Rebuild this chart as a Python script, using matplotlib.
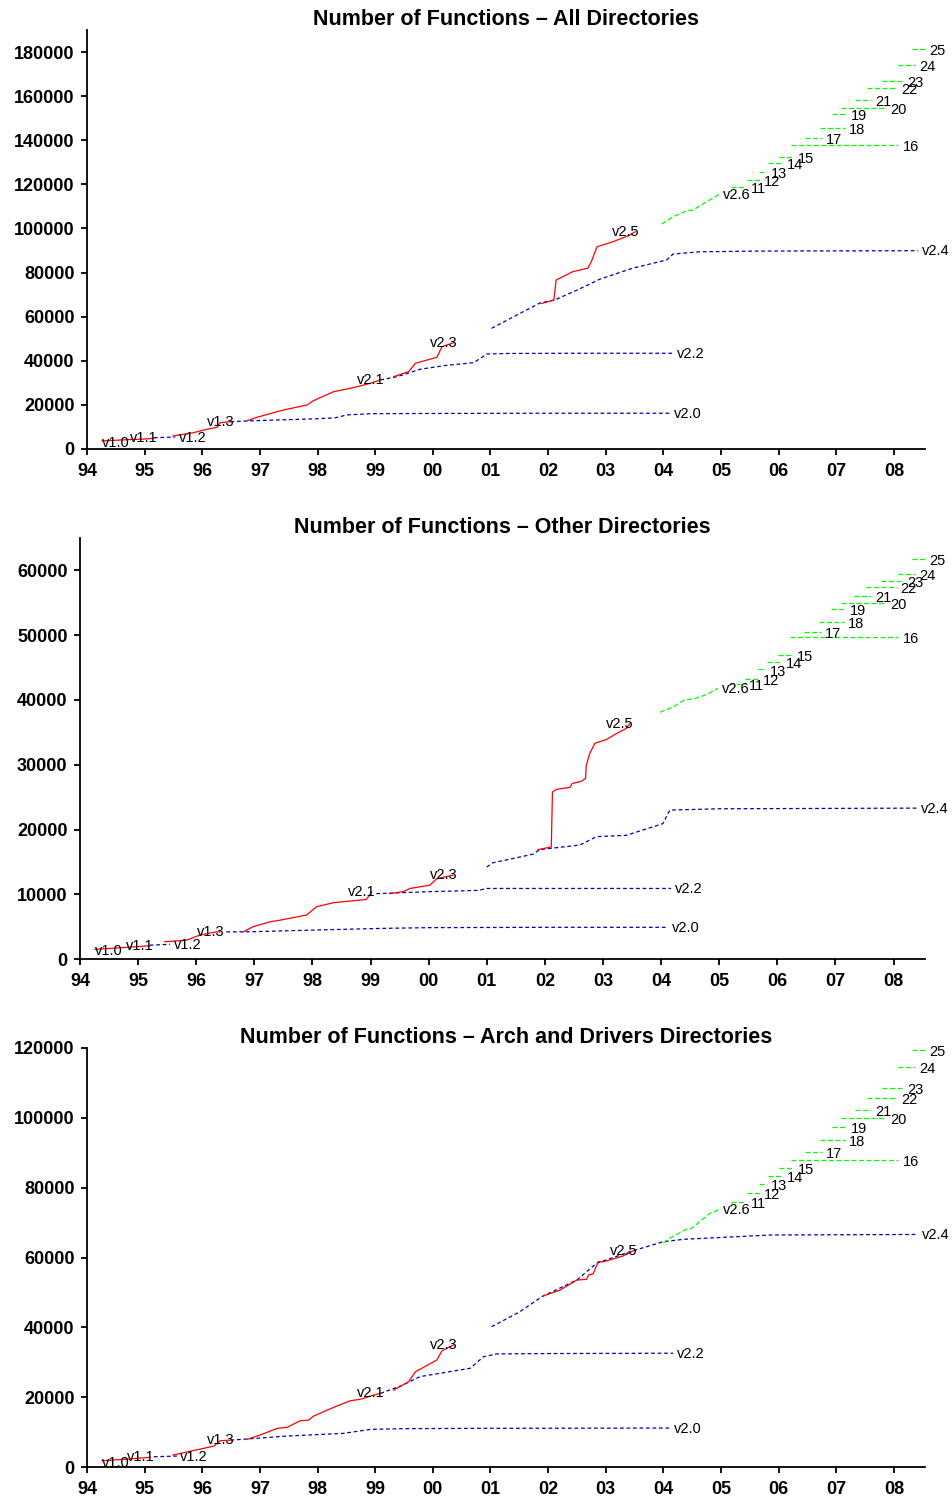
import matplotlib
matplotlib.use('Agg')
import matplotlib.pyplot as plt

plt.rcParams['font.family'] = ['Liberation Sans', 'DejaVu Sans']

# ---------------- shared ----------------
year_ticks = list(range(1994, 2009))
year_labels = ['94', '95', '96', '97', '98', '99', '00', '01', '02', '03', '04', '05', '06', '07', '08']

# 2.6.x stable branches: label, start and end (fractional year)
v26_stable_labels = ['11', '12', '13', '14', '15', '16', '17', '18', '19', '20', '21', '22', '23', '24', '25']
v26_stable_start = [2005.17, 2005.45, 2005.66, 2005.82, 2006.01, 2006.21, 2006.46, 2006.72, 2006.92,
                    2007.09, 2007.32, 2007.53, 2007.79, 2008.08, 2008.31]
v26_stable_end = [2005.44, 2005.68, 2005.80, 2006.08, 2006.27, 2008.08, 2006.75, 2007.15, 2007.18,
                  2007.87, 2007.61, 2008.05, 2008.16, 2008.37, 2008.54]

# ---------------- panel 1: all directories ----------------
all_v11_x = [1994.26, 1994.7, 1995.0, 1995.16]
all_v11_y = [3630, 4200, 4500, 4850]
all_v12_x = [1995.16, 1995.53]
all_v12_y = [5100, 5400]
all_v13_x = [1995.49, 1995.85, 1996.08, 1996.26, 1996.31, 1996.49]
all_v13_y = [5890, 7390, 8930, 9840, 11920, 12380]
all_v20_x = [1996.49, 1997.0, 1997.5, 1998.0, 1998.3, 1998.51, 1998.92, 2000.0, 2002.0, 2004.12]
all_v20_y = [12380, 12900, 13300, 13700, 14100, 15420, 16000, 16100, 16200, 16200]
all_v21_x = [1996.78, 1996.95, 1997.3, 1997.47, 1997.82, 1997.93, 1998.28, 1998.57, 1998.74, 1998.92, 1999.09]
all_v21_y = [12830, 14370, 16910, 18000, 19950, 21900, 25980, 27520, 28560, 29790, 31290]
all_v22_x = [1999.09, 1999.38, 1999.78, 2000.2, 2000.71, 2000.94, 2001.3, 2002.5, 2004.17]
all_v22_y = [31290, 32780, 36140, 37800, 39130, 43070, 43300, 43400, 43400]
all_v23_x = [1999.32, 1999.58, 1999.7, 2000.07, 2000.16, 2000.36]
all_v23_y = [32780, 35050, 38850, 41580, 46380, 48200]
all_v24_x = [2001.02, 2001.46, 2001.86, 2002.12, 2002.5, 2002.9, 2003.47, 2004.06, 2004.17, 2004.63,
             2005.5, 2006.5, 2008.42]
all_v24_y = [54700, 60750, 66200, 67600, 72000, 77000, 82000, 85700, 88400, 89400, 89700, 89800, 89900]
all_v25_x = [2001.89, 2002.1, 2002.14, 2002.43, 2002.69, 2002.75, 2002.85, 2003.13, 2003.42, 2003.51]
all_v25_y = [66000, 67500, 76600, 80400, 82000, 84900, 91700, 94000, 97000, 98500]
all_v26_x = [2003.97, 2004.17, 2004.4, 2004.52, 2004.75, 2004.98]
all_v26_y = [102000, 105300, 108000, 108400, 112100, 115600]
all_stable_y = [118700, 122000, 125700, 129500, 132500, 137800, 140900, 145700, 151800, 154700,
                158200, 163500, 167000, 174100, 181200]

# ---------------- panel 2: other directories ----------------
other_v11_x = [1994.26, 1994.7, 1995.2]
other_v11_y = [1500, 1750, 2050]
other_v12_x = [1995.2, 1995.55]
other_v12_y = [2150, 2270]
other_v13_x = [1995.46, 1995.84, 1996.06, 1996.35, 1996.41]
other_v13_y = [2670, 2930, 3700, 4200, 4200]
other_v20_x = [1996.52, 1996.87, 1998.0, 1999.16, 2000.0, 2002.0, 2004.12]
other_v20_y = [4200, 4200, 4470, 4730, 4850, 4900, 4900]
other_v21_x = [1996.81, 1996.98, 1997.27, 1997.44, 1997.9, 1998.07, 1998.36, 1998.93, 1999.02]
other_v21_y = [4200, 5000, 5750, 6000, 6800, 8070, 8700, 9200, 10400]
other_v22_x = [1999.1, 2000.0, 2000.85, 2001.0, 2002.0, 2004.17]
other_v22_y = [10100, 10400, 10600, 10900, 10900, 10900]
other_v23_x = [1999.33, 1999.56, 1999.68, 2000.02, 2000.14, 2000.42]
other_v23_y = [10100, 10400, 10900, 11400, 12400, 12950]
other_v24_x = [2001.0, 2001.1, 2001.8, 2001.91, 2002.6, 2002.89, 2003.4, 2004.03, 2004.15, 2005.0, 2008.41]
other_v24_y = [14200, 14850, 16200, 16900, 17600, 18900, 19100, 20900, 23000, 23200, 23300]
other_v25_x = [2001.88, 2002.11, 2002.13, 2002.2, 2002.43, 2002.47, 2002.63, 2002.7, 2002.71, 2002.77,
               2002.86, 2003.06, 2003.23, 2003.4, 2003.46]
other_v25_y = [16900, 17300, 25800, 26200, 26500, 27100, 27450, 27900, 29800, 31700,
               33300, 33900, 34800, 35600, 36350]
other_v26_x = [2003.98, 2004.2, 2004.4, 2004.58, 2004.8, 2004.98]
other_v26_y = [38100, 38900, 40000, 40200, 40900, 41800]
other_stable_y = [42400, 43300, 44700, 45900, 46900, 49700, 50500, 52000, 54100, 54950,
                  56000, 57500, 58300, 59400, 61700]

# ---------------- panel 3: arch and drivers ----------------
arch_v11_x = [1994.26, 1994.7, 1995.1]
arch_v11_y = [1800, 2300, 2780]
arch_v12_x = [1995.16, 1995.56]
arch_v12_y = [2950, 3150]
arch_v13_x = [1995.49, 1996.02, 1996.2, 1996.31, 1996.49]
arch_v13_y = [3440, 5350, 6000, 7530, 7730]
arch_v20_x = [1996.49, 1997.47, 1998.45, 1998.92, 1999.5, 2001.0, 2004.12]
arch_v20_y = [7700, 8880, 9650, 10800, 11000, 11100, 11170]
arch_v21_x = [1996.78, 1997.0, 1997.3, 1997.47, 1997.7, 1997.85, 1997.93, 1998.28, 1998.57, 1998.74,
              1998.97, 1999.09]
arch_v21_y = [7930, 9160, 11080, 11370, 13260, 13460, 14600, 17100, 19000, 19400, 20600, 21100]
arch_v22_x = [1999.09, 1999.44, 1999.78, 2000.65, 2000.88, 2001.1, 2002.0, 2004.17]
arch_v22_y = [21100, 23200, 25900, 28300, 31600, 32400, 32500, 32600]
arch_v23_x = [1999.32, 1999.58, 1999.7, 2000.07, 2000.16, 2000.36]
arch_v23_y = [22050, 24430, 27300, 30650, 33300, 34940]
arch_v24_x = [2001.02, 2001.51, 2001.89, 2002.5, 2002.84, 2003.42, 2004.0, 2004.35, 2005.85, 2008.42]
arch_v24_y = [40180, 44480, 48770, 53560, 58340, 61660, 64530, 65210, 66440, 66600]
arch_v25_x = [2001.91, 2002.21, 2002.5, 2002.67, 2002.7, 2002.78, 2002.87, 2002.96, 2003.07, 2003.3, 2003.48]
arch_v25_y = [48970, 50700, 53560, 53760, 54990, 55270, 58800, 58800, 59290, 60430, 61950]
arch_v26_x = [2004.0, 2004.11, 2004.4, 2004.49, 2004.81, 2004.98]
arch_v26_y = [64240, 65500, 68080, 68360, 72660, 73800]
arch_stable_y = [75980, 78560, 80960, 83340, 85720, 87920, 90300, 93650, 97460, 99870,
                 102240, 105770, 108460, 114650, 119420]

# ---------------- styling ----------------
RED = '#ff0000'
BLUE = '#0000b0'
GREEN = '#00ff00'
LBL_FS = 10.5
TICK_FS = 13


def dev(ax, x, y, label):
    ax.plot(x, y, color=RED, lw=0.9, zorder=3)
    ax.annotate(label, (x[-1], y[-1]), xytext=(3, 0), textcoords='offset points',
                ha='right', va='center', fontsize=LBL_FS, zorder=5)


def stable(ax, x, y, label, color=BLUE, dashes=(3.0, 2.2)):
    ax.plot(x, y, color=color, lw=0.9, dashes=dashes, zorder=2)
    ax.annotate(label, (x[-1], y[-1]), xytext=(2.5, -0.5), textcoords='offset points',
                ha='left', va='center', fontsize=LBL_FS, zorder=5)


def panel(ax, title, ymax, ystep, v11x, v11y, v12x, v12y, v13x, v13y, v20x, v20y, v21x, v21y,
          v22x, v22y, v23x, v23y, v24x, v24y, v25x, v25y, v26x, v26y, st_y):
    ax.annotate('v1.0', (v11x[0], v11y[0]), xytext=(0, -1.5), textcoords='offset points',
                ha='left', va='center', fontsize=LBL_FS, zorder=5)
    dev(ax, v11x, v11y, 'v1.1')
    stable(ax, v12x, v12y, 'v1.2')
    dev(ax, v13x, v13y, 'v1.3')
    stable(ax, v20x, v20y, 'v2.0')
    dev(ax, v21x, v21y, 'v2.1')
    stable(ax, v22x, v22y, 'v2.2')
    dev(ax, v23x, v23y, 'v2.3')
    stable(ax, v24x, v24y, 'v2.4')
    dev(ax, v25x, v25y, 'v2.5')
    stable(ax, v26x, v26y, 'v2.6', color=GREEN, dashes=(4.0, 2.0))
    for lab, s, e, yv in zip(v26_stable_labels, v26_stable_start, v26_stable_end, st_y):
        ax.plot([s, e], [yv, yv], color=GREEN, lw=0.9, dashes=(4.0, 2.0), zorder=2)
        ax.annotate(lab, (e, yv), xytext=(3, -1.5), textcoords='offset points',
                    ha='left', va='center', fontsize=LBL_FS, zorder=5)

    ax.set_xlim(1994, 2008.54)
    ax.set_ylim(0, ymax)
    ax.set_xticks(year_ticks)
    ax.set_xticklabels(year_labels)
    ax.set_yticks(list(range(0, int(ymax) + 1, ystep)))
    for s in ('top', 'right'):
        ax.spines[s].set_visible(False)
    for s in ('left', 'bottom'):
        ax.spines[s].set_linewidth(1.3)
    ax.tick_params(direction='out', length=4, width=1.3, pad=5, labelsize=TICK_FS)
    ax.tick_params(axis='x', pad=6)
    for t in ax.get_xticklabels() + ax.get_yticklabels():
        t.set_fontweight('bold')
    ax.set_title(title, fontsize=15.5, fontweight='bold', pad=1.5)


fig = plt.figure(figsize=(9.53, 14.99), dpi=100)
ax1 = fig.add_axes([0.0913, 0.7005, 0.8793, 0.2795])
ax2 = fig.add_axes([0.0839, 0.3602, 0.8867, 0.2809])
ax3 = fig.add_axes([0.0913, 0.0213, 0.8793, 0.2796])

panel(ax1, 'Number of Functions \u2013 All Directories', 190000, 20000,
      all_v11_x, all_v11_y, all_v12_x, all_v12_y, all_v13_x, all_v13_y, all_v20_x, all_v20_y,
      all_v21_x, all_v21_y, all_v22_x, all_v22_y, all_v23_x, all_v23_y, all_v24_x, all_v24_y,
      all_v25_x, all_v25_y, all_v26_x, all_v26_y, all_stable_y)
panel(ax2, 'Number of Functions \u2013 Other Directories', 65000, 10000,
      other_v11_x, other_v11_y, other_v12_x, other_v12_y, other_v13_x, other_v13_y, other_v20_x, other_v20_y,
      other_v21_x, other_v21_y, other_v22_x, other_v22_y, other_v23_x, other_v23_y, other_v24_x, other_v24_y,
      other_v25_x, other_v25_y, other_v26_x, other_v26_y, other_stable_y)
panel(ax3, 'Number of Functions \u2013 Arch and Drivers Directories', 120000, 20000,
      arch_v11_x, arch_v11_y, arch_v12_x, arch_v12_y, arch_v13_x, arch_v13_y, arch_v20_x, arch_v20_y,
      arch_v21_x, arch_v21_y, arch_v22_x, arch_v22_y, arch_v23_x, arch_v23_y, arch_v24_x, arch_v24_y,
      arch_v25_x, arch_v25_y, arch_v26_x, arch_v26_y, arch_stable_y)

fig.savefig('out.png', dpi=100)
